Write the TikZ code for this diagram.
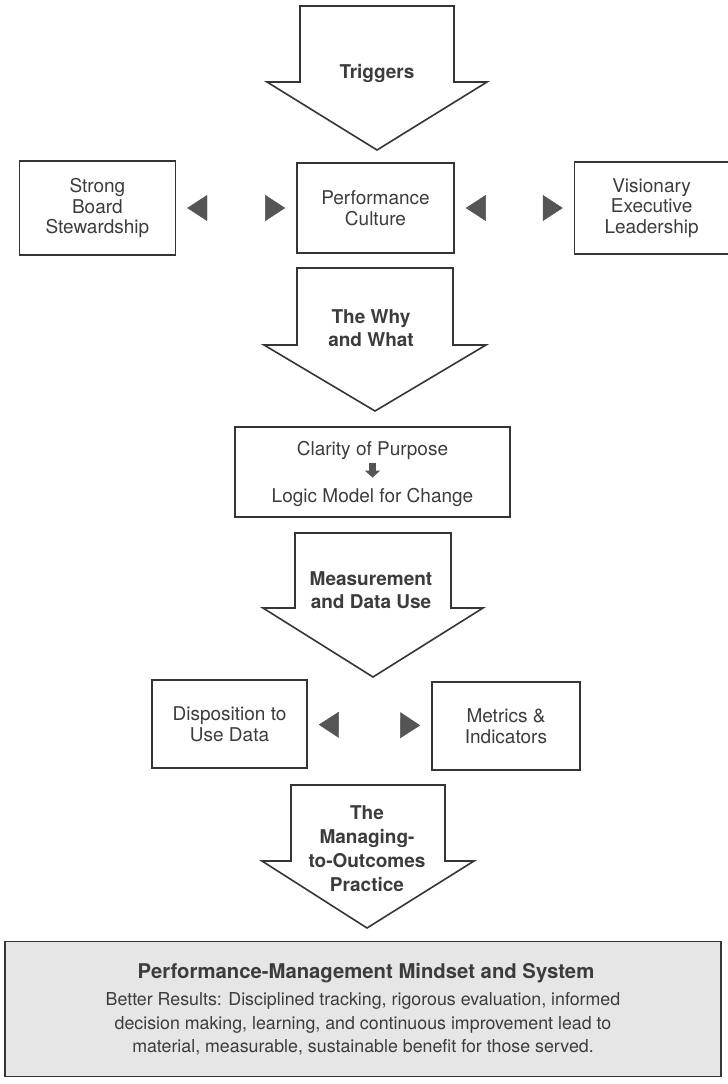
\documentclass[tikz,border=0pt]{standalone}
\usepackage{fontspec}
\setmainfont{TeX Gyre Heros}
\usetikzlibrary{arrows.meta,positioning}
\definecolor{ink}{HTML}{353535}
\definecolor{txt}{HTML}{3C3C3C}
\definecolor{tri}{HTML}{555555}
\definecolor{panel}{HTML}{E6E6E6}

\begin{document}
\begin{tikzpicture}[x=1pt, y=-1pt, line join=miter,
  box/.style = {draw=ink, line width=1.6pt, text=txt, align=center, inner sep=0pt, font=\fontsize{19}{20.5}\selectfont},
  label/.style = {text=txt, align=center, inner sep=0pt, font=\fontsize{19}{20.5}\selectfont},
  blockarrow/.style = {draw=ink, line width=1.6pt, fill=white},
  arrowtext/.style = {text=txt, align=center, inner sep=0pt, font=\bfseries\fontsize{19}{23}\selectfont},
  pair/.style = {draw=white, {Triangle[length=20pt,width=26pt,color=tri]}-{Triangle[length=20pt,width=26pt,color=tri]}, shorten <=11pt, shorten >=11pt}]
  \useasboundingbox (0,0) rectangle (728,1084);

  % triggers
  \draw[blockarrow] (300,6) -- (300,82) -- (267,82) -- (377,150) -- (487,82) -- (454,82) -- (454,6) -- cycle;
  \node[arrowtext, anchor=base] (trig) at (377,78) {Triggers};

  % culture row
  \node[box, minimum width=157pt, minimum height=90pt] (pc) at (375.5,208) {Performance\\Culture};
  \node[box, minimum width=156pt, minimum height=94pt] (sb) [left=120pt of pc] {Strong\\Board\\Stewardship};
  \node[box, minimum width=154pt, minimum height=92pt] (ve) [right=119pt of pc] {Visionary\\Executive\\Leadership};
  \draw[pair] (pc) -- (sb);
  \draw[pair] (pc) -- (ve);

  % why and what
  \draw[blockarrow] (297,268) -- (297,345) -- (264,345) -- (375,411) -- (486,345) -- (453,345) -- (453,268) -- cycle;
  \node[arrowtext] (why) at (371,328) {The Why\\and What};

  \node[box, minimum width=275pt, minimum height=90pt] (clar) at (372.5,472) {};
  \node[label, anchor=base] (purp) at (372.5,455) {Clarity of Purpose};
  \node[label, anchor=base] (logic) at (372.5,502) {Logic Model for Change};
  \draw[draw=tri, line width=7pt, -{Triangle[length=7pt,width=15pt,color=tri]}, shorten <=4pt, shorten >=10pt] (purp) -- (logic);

  % measurement
  \draw[blockarrow] (295,533) -- (295,608) -- (263,608) -- (373,677) -- (483,608) -- (451,608) -- (451,533) -- cycle;
  \node[arrowtext] (meas) at (371,590) {Measurement\\and Data Use};

  \node[box, minimum width=155pt, minimum height=88pt] (disp) at (229.5,724) {Disposition to\\Use Data};
  \node[box, minimum width=148pt, minimum height=88pt] (metr) at (506,726) {Metrics \&\\Indicators};
  \draw[pair] (disp) -- (metr);

  % managing to outcomes
  \draw[blockarrow] (291,785) -- (291,861) -- (262,861) -- (367,928) -- (474,861) -- (445,861) -- (445,785) -- cycle;
  \node[arrowtext, font=\bfseries\fontsize{19}{24}\selectfont] (mto) at (367,849) {The\\Managing-\\to-Outcomes\\Practice};

  \node[box, fill=panel, minimum width=716pt, minimum height=135pt] (pm) at (363,1009) {};
  \node[label, anchor=base, font=\bfseries\fontsize{20.3}{22}\selectfont] (pmtitle) at (366,978) {Performance-Management Mindset and System};
  \node[label, font=\fontsize{17.8}{23.5}\selectfont] (pmbody) at (363,1024) {Better Results: Disciplined tracking, rigorous evaluation, informed\\decision making, learning, and continuous improvement lead to\\material, measurable, sustainable benefit for those served.};
\end{tikzpicture}
\end{document}
